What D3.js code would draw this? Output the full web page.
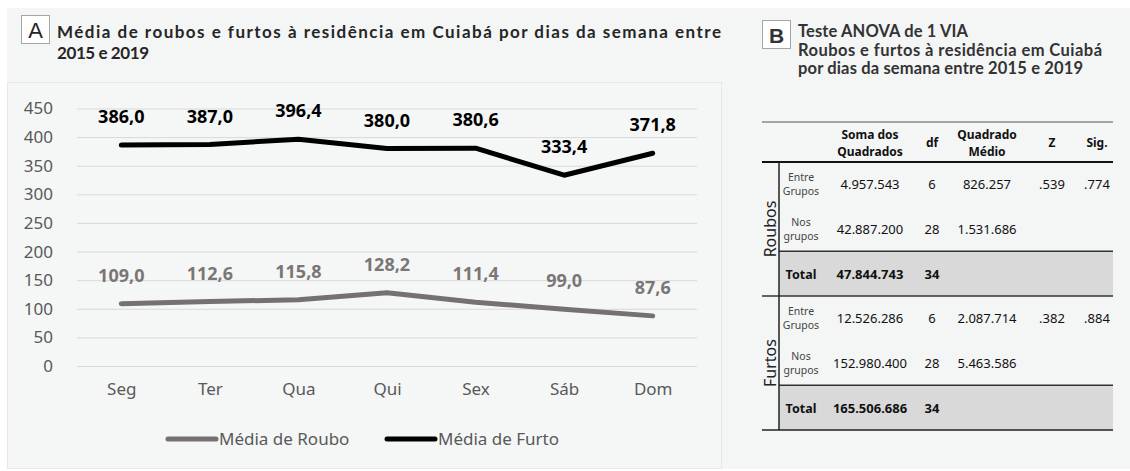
<!DOCTYPE html>
<html>
<head>
<meta charset="utf-8">
<script src="https://cdn.jsdelivr.net/npm/d3@7"></script>
<style>
  body { margin: 0; background: #fff; }
  svg { display: block; }
</style>
</head>
<body>
<div id="viz"></div>
<script>
const width = 1130
const height = 471

// chart data
const days = ["Seg", "Ter", "Qua", "Qui", "Sex", "Sáb", "Dom"]
const roubo = [109.0, 112.6, 115.8, 128.2, 111.4, 99.0, 87.6]
const furto = [386.0, 387.0, 396.4, 380.0, 380.6, 333.4, 371.8]
const yTicks = [0, 50, 100, 150, 200, 250, 300, 350, 400, 450]

// ANOVA table data
const tableHeader = [["Soma dos", "Quadrados"], ["df"], ["Quadrado", "Médio"], ["Z"], ["Sig."]]
const groups = ["Roubos", "Furtos"]
const rowLabels = [["Entre", "Grupos"], ["Nos", "grupos"], ["Total"]]
const roubosRows = [
  ["4.957.543", "6", "826.257", ".539", ".774"],
  ["42.887.200", "28", "1.531.686", "", ""],
  ["47.844.743", "34", "", "", ""]
]
const furtosRows = [
  ["12.526.286", "6", "2.087.714", ".382", ".884"],
  ["152.980.400", "28", "5.463.586", "", ""],
  ["165.506.686", "34", "", "", ""]
]

const svg = d3.select("#viz")
  .append("svg")
    .attr("width", width)
    .attr("height", height)

svg.append("rect")
  .attr("x", 7).attr("y", 8)
  .attr("width", width - 7).attr("height", 461)
  .attr("fill", "#f4f5f5")

// ---------- panel A ----------
svg.append("rect")
  .attr("x", 7.5).attr("y", 82.5)
  .attr("width", 714).attr("height", 386)
  .attr("fill", "#f5f6f6")
  .attr("stroke", "#e6e7e7")

svg.append("rect")
  .attr("x", 21.5).attr("y", 15.5)
  .attr("width", 28).attr("height", 28)
  .attr("fill", "#fff").attr("stroke", "#a6a6a6")
svg.append("text")
  .attr("x", 35.5).attr("y", 38)
  .attr("text-anchor", "middle")
  .style("font", "22px 'Liberation Sans'")
  .attr("fill", "#262626")
  .text("A")

svg.append("text")
  .attr("x", 57).attr("y", 38)
  .attr("textLength", 664).attr("lengthAdjust", "spacing")
  .style("font", "bold 17px Lato")
  .attr("fill", "#262626")
  .text("Média de roubos e furtos à residência em Cuiabá por dias da semana entre")
svg.append("text")
  .attr("x", 57).attr("y", 59)
  .attr("textLength", 92).attr("lengthAdjust", "spacing")
  .style("font", "bold 17px Lato")
  .attr("fill", "#262626")
  .text("2015 e 2019")

const x = d3.scalePoint()
  .domain(days)
  .range([77, 697])
  .padding(0.5)

const y = d3.scaleLinear()
  .domain([0, 450])
  .range([366, 108.5])

const grid = svg.append("g")
  .attr("transform", "translate(77,0)")
  .call(d3.axisLeft(y).tickValues(yTicks).tickSize(-620).tickFormat(d => d).tickPadding(24))
grid.select(".domain").remove()
grid.selectAll(".tick line").attr("stroke", "#d9d9d9")
grid.selectAll(".tick text")
  .attr("fill", "#595959")
  .style("font", "17px 'Noto Sans'")

const xAxis = svg.append("g")
  .attr("transform", "translate(0,366)")
  .call(d3.axisBottom(x).tickSize(0).tickPadding(17))
xAxis.select(".domain").remove()
xAxis.selectAll(".tick text")
  .attr("fill", "#595959")
  .style("font", "17px 'Noto Sans'")

const line = d3.line()
  .x((d, i) => x(days[i]))
  .y(d => y(d))

const series = [
  { name: "Média de Roubo", values: roubo, color: "#767171", label: "#7a7676" },
  { name: "Média de Furto", values: furto, color: "#000000", label: "#000000" }
]

series.forEach(s => {
  svg.append("path")
    .datum(s.values)
    .attr("d", line)
    .attr("fill", "none")
    .attr("stroke", s.color)
    .attr("stroke-width", 5)
    .attr("stroke-linecap", "round")
    .attr("stroke-linejoin", "round")

  svg.selectAll(null)
    .data(s.values)
    .enter()
    .append("text")
    .attr("x", (d, i) => x(days[i]))
    .attr("y", d => y(d) - 22)
    .attr("text-anchor", "middle")
    .style("font", "bold 18px 'Noto Sans'")
    .attr("fill", s.label)
    .text(d => d3.format(".1f")(d).replace(".", ","))
})

// legend
const legendX = [168, 387]
series.forEach((s, i) => {
  svg.append("line")
    .attr("x1", legendX[i]).attr("x2", legendX[i] + 48)
    .attr("y1", 439).attr("y2", 439)
    .attr("stroke", s.color)
    .attr("stroke-width", 5)
    .attr("stroke-linecap", "round")
  svg.append("text")
    .attr("x", legendX[i] + 51).attr("y", 445)
    .style("font", "17px 'Noto Sans'")
    .attr("fill", "#595959")
    .text(s.name)
})

// ---------- panel B ----------
svg.append("rect")
  .attr("x", 762.5).attr("y", 20.5)
  .attr("width", 28).attr("height", 28)
  .attr("fill", "#fff").attr("stroke", "#a6a6a6")
svg.append("text")
  .attr("x", 776.5).attr("y", 43)
  .attr("text-anchor", "middle")
  .style("font", "bold 21px 'Liberation Sans'")
  .attr("fill", "#333")
  .text("B")

const titleB = ["Teste ANOVA de 1 VIA", "Roubos e furtos à residência em Cuiabá", "por dias da semana entre 2015 e 2019"]
const titleBLen = [170, 304, 285]
const titleBY = [37, 56, 74]
titleB.forEach((t, i) => {
  svg.append("text")
    .attr("x", 798).attr("y", titleBY[i])
    .attr("textLength", titleBLen[i]).attr("lengthAdjust", "spacing")
    .style("font", "bold 16.5px Lato")
    .attr("fill", "#333")
    .text(t)
})

const colX = [870, 932, 987, 1052, 1097]
const tLeft = 762, tMid = 779, tRight = 1113
const headTop = 122, headBottom = 162
const rowH = (430 - headBottom) / 6

// gray total rows
;[2, 5].forEach(r => {
  svg.append("rect")
    .attr("x", tMid).attr("y", headBottom + r * rowH)
    .attr("width", tRight - tMid).attr("height", rowH)
    .attr("fill", "#d9d9d9")
})

// header
tableHeader.forEach((h, i) => {
  h.forEach((w, j) => {
    svg.append("text")
      .attr("x", colX[i])
      .attr("y", h.length === 2 ? 139 + j * 17 : 147)
      .attr("text-anchor", "middle")
      .style("font", "bold 12px 'Noto Sans'")
      .attr("fill", "#111")
      .text(w)
  })
})

const tableLines = [
  [tLeft, headTop, tRight, headTop, 1, "#555"],
  [tLeft, headBottom, tRight, headBottom, 1.8, "#111"],
  [tMid, headBottom + 2 * rowH, tRight, headBottom + 2 * rowH, 1.5, "#333"],
  [tLeft, headBottom + 3 * rowH, tRight, headBottom + 3 * rowH, 1.5, "#333"],
  [tMid, headBottom + 5 * rowH, tRight, headBottom + 5 * rowH, 1.5, "#333"],
  [tLeft, 430, tRight, 430, 1.5, "#222"],
  [tMid, headBottom, tMid, 430, 1.5, "#222"]
]
tableLines.forEach(l => {
  svg.append("line")
    .attr("x1", l[0]).attr("y1", l[1]).attr("x2", l[2]).attr("y2", l[3])
    .attr("stroke-width", l[4]).attr("stroke", l[5])
})

;[roubosRows, furtosRows].forEach((rows, g) => {
  const gTop = headBottom + g * 3 * rowH
  svg.append("text")
    .attr("transform", "translate(776," + (gTop + 1.5 * rowH) + ") rotate(-90)")
    .attr("text-anchor", "middle")
    .style("font", "16px 'Noto Sans'")
    .attr("fill", "#222")
    .text(groups[g])

  rows.forEach((row, r) => {
    const cy = gTop + (r + 0.5) * rowH
    const isTotal = r === 2
    const lab = rowLabels[r]
    lab.forEach((w, j) => {
      svg.append("text")
        .attr("x", 801)
        .attr("y", isTotal ? cy + 5 : cy - 3 + j * 14)
        .attr("text-anchor", "middle")
        .style("font", isTotal ? "bold 12.5px 'Noto Sans'" : "10.5px 'Noto Sans'")
        .attr("fill", isTotal ? "#111" : "#444")
        .text(w)
    })
    row.forEach((v, c) => {
      svg.append("text")
        .attr("x", colX[c])
        .attr("y", cy + 5)
        .attr("text-anchor", "middle")
        .style("font", (isTotal ? "bold " : "") + "13px 'Noto Sans'")
        .attr("fill", "#111")
        .text(v)
    })
  })
})
</script>
</body>
</html>
